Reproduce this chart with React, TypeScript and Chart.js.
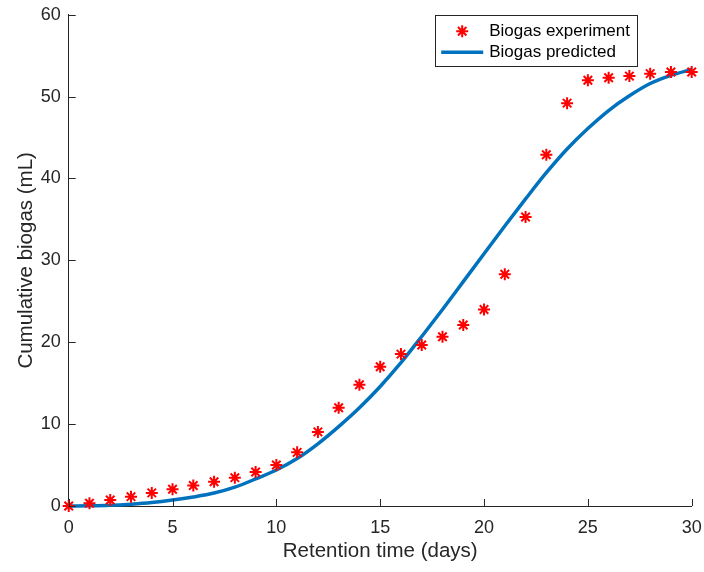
import React, { useEffect, useRef } from "react";
import { Chart, registerables } from "chart.js";

Chart.register(...registerables);

const days = [0, 1, 2, 3, 4, 5, 6, 7, 8, 9, 10, 11, 12, 13, 14, 15, 16, 17, 18, 19, 20, 21, 22, 23, 24, 25, 26, 27, 28, 29, 30];
const experiment = [0, 0.33, 0.73, 1.14, 1.6, 2.04, 2.5, 2.97, 3.46, 4.15, 5.0, 6.55, 9.05, 12.0, 14.8, 17.0, 18.55, 19.66, 20.67, 22.1, 24.0, 28.3, 35.3, 42.9, 49.2, 52.0, 52.3, 52.5, 52.8, 53.0, 53.0];
const predicted = [0, 0.02, 0.08, 0.22, 0.42, 0.72, 1.1, 1.58, 2.3, 3.3, 4.4, 5.8, 7.6, 9.7, 12.0, 14.6, 17.5, 20.7, 24.0, 27.4, 30.8, 34.2, 37.5, 40.7, 43.6, 46.1, 48.3, 50.1, 51.6, 52.6, 53.3];
const xTicks = [0, 5, 10, 15, 20, 25, 30];
const yTicks = [0, 10, 20, 30, 40, 50, 60];
const seriesLabels = ["Biogas experiment", "Biogas predicted"];

const AXIS = "#262626";
const FONT = "'Liberation Sans', Arial, Helvetica, sans-serif";

const inwardTicks = {
  id: "inwardTicks",
  afterDatasetsDraw(chart: any) {
    const { ctx, chartArea, scales } = chart;
    ctx.save();
    ctx.strokeStyle = AXIS;
    ctx.lineWidth = 1;
    ctx.beginPath();
    xTicks.forEach((v) => {
      const px = Math.round(scales.x.getPixelForValue(v)) + 0.5;
      ctx.moveTo(px, chartArea.bottom);
      ctx.lineTo(px, chartArea.bottom - 7);
    });
    yTicks.forEach((v) => {
      const py = Math.round(scales.y.getPixelForValue(v)) + 0.5;
      ctx.moveTo(chartArea.left, py);
      ctx.lineTo(chartArea.left + 7, py);
    });
    ctx.stroke();
    ctx.restore();
  },
};

const drawStar = (ctx: any, x: number, y: number, r: number) => {
  ctx.beginPath();
  for (let i = 0; i < 4; i++) {
    const a = (i * Math.PI) / 4;
    ctx.moveTo(x - Math.cos(a) * r, y - Math.sin(a) * r);
    ctx.lineTo(x + Math.cos(a) * r, y + Math.sin(a) * r);
  }
  ctx.stroke();
};

const legendBox = {
  id: "legendBox",
  afterDraw(chart: any) {
    const { ctx, chartArea } = chart;
    const left = chartArea.left + 366.5;
    const top = chartArea.top + 0.5;
    const w = 202;
    const h = 51;
    ctx.save();
    ctx.fillStyle = "#ffffff";
    ctx.fillRect(left, top, w, h);
    ctx.strokeStyle = AXIS;
    ctx.lineWidth = 1;
    ctx.strokeRect(Math.round(left) + 0.5, Math.round(top) + 0.5, w, h);
    const ds = chart.data.datasets;
    ctx.strokeStyle = ds[0].borderColor;
    ctx.lineWidth = 2;
    drawStar(ctx, left + 27, top + 16, 6);
    ctx.strokeStyle = ds[1].borderColor;
    ctx.lineWidth = 3.5;
    ctx.beginPath();
    ctx.moveTo(left + 6, top + 37);
    ctx.lineTo(left + 48, top + 37);
    ctx.stroke();
    ctx.fillStyle = "#000000";
    ctx.font = "17px " + FONT;
    ctx.textBaseline = "middle";
    ctx.textAlign = "left";
    ctx.fillText(ds[0].label, left + 54, top + 16);
    ctx.fillText(ds[1].label, left + 54, top + 37);
    ctx.restore();
  },
};

export default function App() {
  const ref = useRef<HTMLCanvasElement | null>(null);
  useEffect(() => {
    if (!ref.current) return;
    const chart = new Chart(ref.current, {
      type: "line",
      data: {
        datasets: [
          {
            label: seriesLabels[0],
            data: days.map((d, i) => ({ x: d, y: experiment[i] })),
            showLine: false,
            pointStyle: "star",
            pointRadius: 6,
            pointHoverRadius: 6,
            pointBorderWidth: 2,
            borderColor: "#ff0000",
            backgroundColor: "#ff0000",
            clip: false,
          },
          {
            label: seriesLabels[1],
            data: days.map((d, i) => ({ x: d, y: predicted[i] })),
            borderColor: "#0072BD",
            backgroundColor: "#0072BD",
            borderWidth: 3.5,
            pointRadius: 0,
            cubicInterpolationMode: "monotone",
            fill: false,
            clip: false,
          },
        ],
      } as any,
      options: {
        animation: false,
        responsive: false,
        events: [],
        layout: { padding: { top: 14.7, right: 12.3, left: 0, bottom: 0 } },
        plugins: { legend: { display: false }, tooltip: { enabled: false } },
        scales: {
          x: {
            type: "linear",
            min: 0,
            max: 30,
            afterBuildTicks: (s: any) => {
              s.ticks = xTicks.map((v) => ({ value: v }));
            },
            afterFit: (s: any) => {
              s.height = 66;
              s.paddingLeft = 0;
              s.paddingRight = 0;
            },
            grid: { display: true, drawOnChartArea: false, drawTicks: false },
            border: { display: true, color: AXIS, width: 1 },
            ticks: { color: AXIS, font: { family: FONT, size: 18 }, padding: 11, maxRotation: 0 },
            title: {
              display: true,
              text: "Retention time (days)",
              color: AXIS,
              font: { family: FONT, size: 20.5 },
              padding: { top: 0, bottom: 8 },
            },
          },
          y: {
            type: "linear",
            min: 0,
            max: 60,
            afterBuildTicks: (s: any) => {
              s.ticks = yTicks.map((v) => ({ value: v }));
            },
            afterFit: (s: any) => {
              s.width = 68.7;
              s.paddingTop = 0;
              s.paddingBottom = 0;
            },
            grid: { display: true, drawOnChartArea: false, drawTicks: false },
            border: { display: true, color: AXIS, width: 1 },
            ticks: { color: AXIS, font: { family: FONT, size: 18 }, padding: 8 },
            title: {
              display: true,
              text: "Cumulative biogas (mL)",
              color: AXIS,
              font: { family: FONT, size: 20.5 },
              padding: { top: 14, bottom: 0 },
            },
          },
        },
      } as any,
      plugins: [inwardTicks, legendBox],
    });
    return () => chart.destroy();
  }, []);
  return (
    <div style={{ position: "absolute", left: 0, top: 0, width: 704, height: 572, background: "#fff" }}>
      <canvas ref={ref} width={704} height={572} />
    </div>
  );
}
